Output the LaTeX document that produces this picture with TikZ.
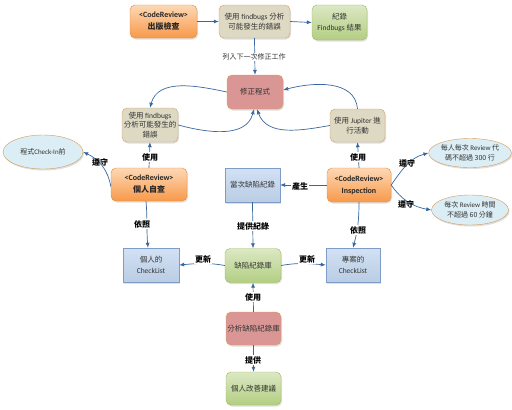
\documentclass[tikz,border=0pt]{standalone}
\usepackage{fontspec}
\setmainfont{Noto Sans CJK TC}
\newfontfamily\lt{Carlito}
\usetikzlibrary{shapes.geometric,arrows.meta,shadows}
\definecolor{arr}{HTML}{3A679F}
\definecolor{orgT}{HTML}{FDD8B5}
\definecolor{orgB}{HTML}{F7994A}
\definecolor{orgD}{HTML}{E58A3C}
\definecolor{tanF}{HTML}{DDD9C3}
\definecolor{tanD}{HTML}{D9A066}
\definecolor{grT}{HTML}{DCE8C4}
\definecolor{grB}{HTML}{B3CE82}
\definecolor{grD}{HTML}{9BBB59}
\definecolor{pkF}{HTML}{DA9694}
\definecolor{pkD}{HTML}{E49A55}
\definecolor{blT}{HTML}{D3E1F3}
\definecolor{blB}{HTML}{B9CDE5}
\definecolor{blD}{HTML}{7E9CC8}
\definecolor{elF}{HTML}{DCEEF5}
\definecolor{elD}{HTML}{D59A5A}
\definecolor{txt}{HTML}{333333}
\tikzset{
  base/.style={rounded corners=5pt, align=center, inner sep=1pt, text=txt,
    font=\fontsize{7.5}{10.5}\selectfont,
    drop shadow={opacity=0.25, shadow xshift=1pt, shadow yshift=-1.5pt}},
  orangebox/.style={base, draw=orgD, top color=orgT, bottom color=orgB, font=\fontsize{8}{12}\selectfont\bfseries, text=black!85},
  tanbox/.style={base, draw=tanD, fill=tanF},
  greenbox/.style={base, draw=grD, top color=grT, bottom color=grB},
  pinkbox/.style={base, draw=pkD, fill=pkF},
  bluebox/.style={base, rounded corners=0pt, draw=blD, top color=blT, bottom color=blB},
  ellbox/.style={base, ellipse, draw=elD, fill=elF, inner sep=0pt},
  conn/.style={draw=arr, line width=0.7pt, -{Latex[length=5pt,width=4pt]}},
  lbl/.style={font=\fontsize{8}{9}\selectfont\bfseries, fill=white, inner sep=0.8pt, text=black},
  lblc/.style={font=\fontsize{7}{9}\selectfont, fill=white, inner sep=0.8pt, text=black!80},
}
\begin{document}
\begin{tikzpicture}[x=1pt,y=1pt]
\useasboundingbox[fill=white] (0,0) rectangle (512,-410);
% nodes
\node[orangebox, minimum width=67pt, minimum height=33pt] (A) at (163.5,-21.5) {{\lt\bfseries <CodeReview>}\\出版檢查};
\node[tanbox, minimum width=71pt, minimum height=33pt] (B) at (254.5,-21.5) {使用 {\lt findbugs} 分析\\可能發生的錯誤};
\node[greenbox, minimum width=55pt, minimum height=35pt] (C) at (339.5,-22.5) {紀錄\\{\lt Findbugs} 結果};
\node[pinkbox, minimum width=56pt, minimum height=34pt] (D) at (255,-92) {修正程式};
\node[tanbox, minimum width=56pt, minimum height=34pt, font=\fontsize{7.5}{9.5}\selectfont] (E) at (150,-125) {使用 {\lt findbugs}\\分析可能發生的\\錯誤};
\node[tanbox, minimum width=55pt, minimum height=33pt] (F) at (357.5,-125.5) {使用 {\lt Jupiter} 進\\行活動};
\node[ellbox, minimum width=80pt, minimum height=34pt, font=\fontsize{7}{9}\selectfont] (G) at (43,-152) {程式{\lt Check-In}前};
\node[orangebox, minimum width=76pt, minimum height=33pt] (H) at (149,-184.5) {{\lt\bfseries <CodeReview>}\\個人自查};
\node[bluebox, minimum width=55pt, minimum height=34pt] (I) at (252.5,-185) {當次缺陷紀錄};
\node[orangebox, minimum width=64pt, minimum height=34pt] (J) at (359,-185) {{\lt\bfseries <CodeReview>}\\{\lt\bfseries Inspection}};
\node[ellbox, minimum width=77pt, minimum height=29pt, font=\fontsize{7}{10}\selectfont] (K) at (470,-153) {每人每次 {\lt Review} 代\\碼不超過 300 行};
\node[ellbox, minimum width=77pt, minimum height=30pt, font=\fontsize{7}{10}\selectfont] (L) at (470,-210) {每次 {\lt Review} 時間\\不超過 60 分鐘};
\node[bluebox, minimum width=56pt, minimum height=34pt] (M) at (151,-265) {個人的\\{\lt CheckList}};
\node[greenbox, minimum width=56pt, minimum height=34pt] (N) at (253,-265.5) {缺陷紀錄庫};
\node[bluebox, minimum width=54pt, minimum height=34pt] (O) at (353,-265) {專案的\\{\lt CheckList}};
\node[pinkbox, minimum width=55pt, minimum height=33pt] (P) at (253.5,-328.5) {分析缺陷紀錄庫};
\node[greenbox, minimum width=55pt, minimum height=33pt] (Q) at (253.5,-388.5) {個人改善建議};
% connectors
\draw[conn] (A.east) -- (B.west);
\draw[conn] (B.east) -- (C.west);
\draw[conn] (B.south) -- (D.north);
\draw[conn] (D.west) to[out=168,in=75] (E.north);
\draw[conn] (E.east) to[out=-15,in=-105] ([xshift=-1pt]D.south);
\draw[conn] (F.north) to[out=95,in=15] ([yshift=2pt]D.east);
\draw[conn] (F.west) to[out=190,in=-70] ([xshift=2pt]D.south);
\draw[conn] (H.north) -- (E.south);
\draw[conn] (J.north) -- (F.south);
\draw[conn] ([yshift=-2pt]H.west) to[out=100,in=-25] (G.east);
\draw[conn] (J.east) to[out=55,in=195] (K.west);
\draw[conn] (J.east) to[out=-55,in=170] (L.west);
\draw[conn] (J.west) -- (I.east);
\draw[conn] (I.south) -- (N.north);
\draw[conn] ([xshift=-3pt]H.south) to[out=-85,in=95] ([xshift=-3pt]M.north);
\draw[conn] (J.south) to[out=-90,in=75] (O.north);
\draw[conn] (N.west) to[out=170,in=5] (M.east);
\draw[conn] (N.east) to[out=10,in=175] (O.west);
\draw[conn] (P.north) -- (N.south);
\draw[conn] (P.south) -- (Q.north);
% labels
\node[lblc] (l1) at (254,-57) {列入下一次修正工作};
\node[lbl] (l2) at (150,-157) {使用};
\node[lbl] (l3) at (358,-157) {使用};
\node[lbl, fill=none] (l4) at (100,-162) {遵守};
\node[lbl, fill=none] (l5) at (407,-163) {遵守};
\node[lbl, fill=none] (l6) at (406,-204) {遵守};
\node[lbl] (l7) at (300,-186) {產生};
\node[lbl] (l8) at (142,-224) {依照};
\node[lbl] (l9) at (253,-226) {提供紀錄};
\node[lbl] (l10) at (358,-230) {依照};
\node[lbl] (l11) at (203,-259) {更新};
\node[lbl] (l12) at (307,-259) {更新};
\node[lbl] (l13) at (253,-297) {使用};
\node[lbl] (l14) at (253,-360) {提供};
\end{tikzpicture}
\end{document}
